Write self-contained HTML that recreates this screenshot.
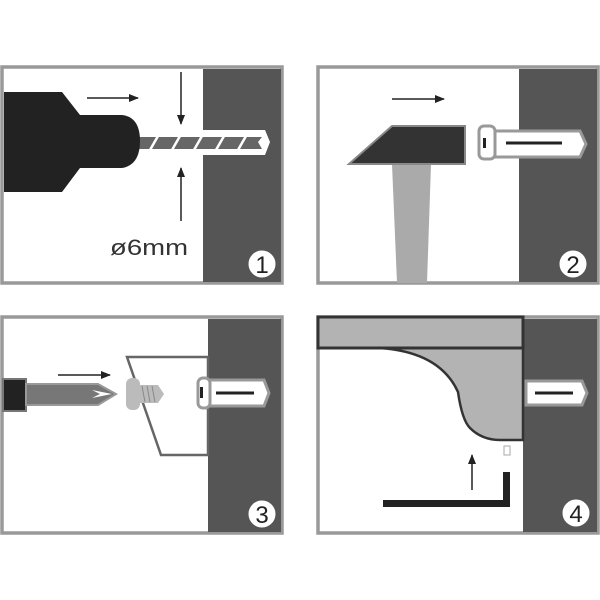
<!DOCTYPE html>
<html><head><style>body{margin:0;background:#fff}svg{display:block}</style></head><body>
<svg width="600" height="600" viewBox="0 0 600 600" xmlns="http://www.w3.org/2000/svg" font-family="Liberation Sans, sans-serif">
<defs><marker id="ah" markerWidth="10" markerHeight="8" refX="9" refY="4" orient="auto" markerUnits="userSpaceOnUse"><path d="M0,0 L10,4 L0,8 Z" fill="#222"/></marker></defs>
<!-- Panel 1 -->
<rect x="2" y="67" width="280" height="216" fill="#fff" stroke="#999" stroke-width="3.5"/>
<rect x="203" y="69" width="78" height="213" fill="#555"/>
<path d="M203,130 L265,130 L270,142 L265,155 L203,155 Z" fill="#fff"/>
<path d="M138,137 L262,137 L258,142 L262,149 L138,149 Z" fill="#666"/>
<g stroke="#fff" stroke-width="2.5"><line x1="150" y1="150" x2="158" y2="136"/><line x1="172" y1="150" x2="180" y2="136"/><line x1="194" y1="150" x2="202" y2="136"/><line x1="216" y1="150" x2="224" y2="136"/><line x1="238" y1="150" x2="246" y2="136"/></g>
<path d="M4,92 L62,92 L80,115 L122,115 Q140,117 140,141 Q140,165 122,168 L80,168 L62,192 L4,192 Z" fill="#222"/>
<line x1="87" y1="98" x2="138" y2="98" stroke="#222" stroke-width="1.5" marker-end="url(#ah)"/>
<line x1="181" y1="72" x2="181" y2="124" stroke="#222" stroke-width="1.5" marker-end="url(#ah)"/>
<line x1="181" y1="221" x2="181" y2="168" stroke="#222" stroke-width="1.5" marker-end="url(#ah)"/>
<text x="110" y="255" font-size="22" fill="#333" textLength="78" lengthAdjust="spacingAndGlyphs">ø6mm</text>
<circle cx="262" cy="264" r="14" fill="#fff" stroke="#555"/><text x="262" y="273" font-size="24" text-anchor="middle" fill="#222">1</text>
<!-- Panel 2 -->
<rect x="318" y="67" width="280" height="216" fill="#fff" stroke="#999" stroke-width="3.5"/>
<rect x="519" y="69" width="78" height="213" fill="#555"/>
<path d="M392,164 L431,164 L427,283 L397,283 Z" fill="#aaa"/>
<path d="M349,164 L392,126 L465,126 L465,164 Z" fill="#333" stroke="#888" stroke-width="2"/>
<line x1="392" y1="99" x2="444" y2="99" stroke="#222" stroke-width="1.5" marker-end="url(#ah)"/>
<path d="M494,131 L580,131 L586,144 L580,157 L494,157 Z" fill="#fff" stroke="#999" stroke-width="3"/>
<rect x="479" y="126" width="16" height="33" rx="5" fill="#fff" stroke="#999" stroke-width="3"/>
<rect x="483" y="138" width="3" height="10" fill="#222"/>
<line x1="506" y1="143" x2="562" y2="143" stroke="#222" stroke-width="3"/>
<circle cx="573" cy="264" r="14" fill="#fff" stroke="#555"/><text x="573" y="273" font-size="24" text-anchor="middle" fill="#222">2</text>
<!-- Panel 3 -->
<rect x="2" y="317" width="280" height="216" fill="#fff" stroke="#999" stroke-width="3.5"/>
<rect x="208" y="319" width="73" height="213" fill="#555"/>
<path d="M127,357 L208,357 L208,455 L161,455 Z" fill="#fff" stroke="#666" stroke-width="2.5"/>
<rect x="3" y="379" width="23" height="32" fill="#222" stroke="#777" stroke-width="2"/>
<path d="M26,384 L98,384 L116,394 L98,405 L26,405 Z" fill="#777" stroke="#999" stroke-width="2"/>
<path d="M92,390 L112,394 L92,398 L100,394 Z" fill="#fff"/>
<line x1="58" y1="375" x2="110" y2="375" stroke="#222" stroke-width="1.5" marker-end="url(#ah)"/>
<rect x="126" y="378" width="14" height="32" rx="6" fill="#bbb"/>
<path d="M138,385 L158,385 L164,394 L158,403 L138,403 Z" fill="#bbb"/>
<g stroke="#888" stroke-width="1"><line x1="142" y1="386" x2="145" y2="402"/><line x1="147" y1="386" x2="150" y2="402"/><line x1="152" y1="386" x2="155" y2="402"/></g>
<path d="M208,380 L264,380 L269,393 L264,406 L208,406 Z" fill="#fff" stroke="#999" stroke-width="3"/>
<rect x="198" y="378" width="12" height="30" rx="5" fill="#fff" stroke="#999" stroke-width="3"/>
<rect x="200" y="387" width="3" height="11" fill="#222"/>
<line x1="216" y1="393" x2="254" y2="393" stroke="#222" stroke-width="3"/>
<circle cx="262" cy="514" r="14" fill="#fff" stroke="#555"/><text x="262" y="523" font-size="24" text-anchor="middle" fill="#222">3</text>
<!-- Panel 4 -->
<rect x="318" y="317" width="280" height="216" fill="#fff" stroke="#999" stroke-width="3.5"/>
<rect x="523" y="319" width="74" height="213" fill="#555"/>
<path d="M380,348 Q440,352 458,392 Q462,420 470,428 Q482,440 500,440 L523,440 L523,348 Z" fill="#b3b3b3" stroke="#333" stroke-width="2.5"/>
<rect x="318" y="317" width="205" height="31" fill="#b3b3b3" stroke="#333" stroke-width="3"/>
<path d="M526,381 L582,381 L587,393 L582,405 L526,405 Z" fill="#fff" stroke="#999" stroke-width="3"/>
<line x1="535" y1="393" x2="573" y2="393" stroke="#222" stroke-width="3"/>
<rect x="504" y="446" width="6" height="9" fill="none" stroke="#aaa" stroke-width="1"/>
<line x1="472" y1="490" x2="472" y2="455" stroke="#222" stroke-width="1.5" marker-end="url(#ah)"/>
<path d="M383,500 L503,500 L503,472 L510,472 L510,507 L383,507 Z" fill="#222"/>
<circle cx="576" cy="513" r="14" fill="#fff" stroke="#555"/><text x="576" y="522" font-size="24" text-anchor="middle" fill="#222">4</text>
</svg>
</body></html>
